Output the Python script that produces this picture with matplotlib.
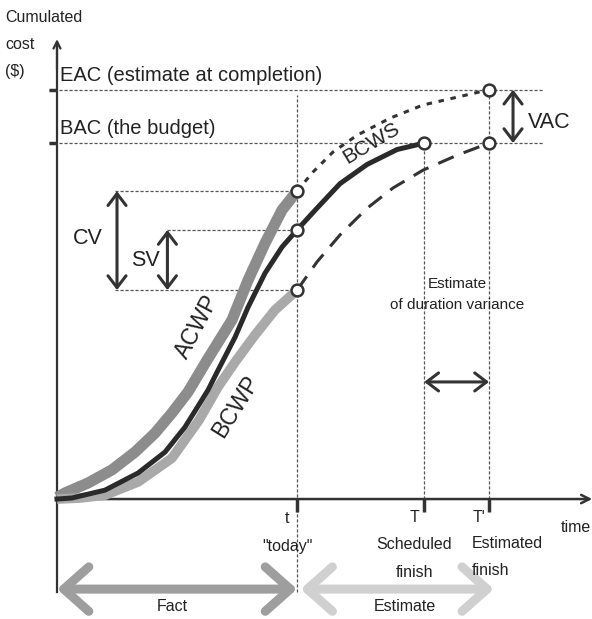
import matplotlib
matplotlib.use('Agg')
import matplotlib.pyplot as plt

plt.rcParams['font.family'] = ['Liberation Sans', 'DejaVu Sans']

# key times and costs
t_today, t_sched, t_est = 10.0, 15.3, 18.0
bac, eac = 100.0, 115.0
acwp_now, bcws_now, bcwp_now = 86.5, 75.6, 58.7

# actual curves up to "today"
bcws_t = [0, 0.625, 2.0, 3.375, 4.5, 5.33, 5.96, 6.29, 6.71, 7.42, 7.96, 8.67, 9.375, 10]
bcws_c = [0, 0.3, 2.5, 7.3, 13.2, 20.2, 27.0, 30.6, 36.2, 45.5, 53.9, 63.5, 70.8, 75.6]
acwp_t = [0, 0.33, 1.29, 2.29, 3.25, 4.08, 4.79, 5.46, 6.25, 7.29, 7.96, 8.67, 9.375, 10]
acwp_c = [0.5, 1.7, 4.5, 8.2, 13.2, 18.5, 24.2, 30.1, 39.0, 50.3, 61.5, 71.9, 81.2, 86.5]
bcwp_t = [0, 0.96, 2.0, 3.375, 4.79, 5.92, 6.71, 7.42, 8.25, 9.08, 10]
bcwp_c = [0, 0.3, 1.1, 4.8, 11.5, 22.2, 31.5, 38.5, 46.1, 53.1, 58.7]

# planned / forecast continuations
bcws_f_t = [10, 10.83, 11.79, 12.92, 14.17, 15.3]
bcws_f_c = [75.6, 81.7, 88.6, 94.0, 98.2, 100.0]
eac_f_t = [10, 10.67, 11.5, 12.5, 13.875, 15.25, 16.67, 18]
eac_f_c = [86.5, 91.9, 97.5, 102.2, 107.0, 110.7, 112.9, 115.0]
bcwp_f_t = [10, 10.83, 11.79, 12.92, 14.0, 15.25, 16.67, 18]
bcwp_f_c = [58.7, 66.6, 74.2, 81.7, 87.4, 92.4, 96.6, 100.0]

DARK = '#333333'

fig = plt.figure(figsize=(5.92, 6.19), dpi=100)
ax = fig.add_axes([0, 0, 1, 1])
ax.set_xlim(-2.375, 22.29)
ax.set_ylim(-33.7, 140.2)
ax.axis('off')


def darrow(x0, y0, x1, y1, color=DARK, lw=2.2, hl=0.85, hw=0.65, z=5):
	ax.annotate('', xy=(x1, y1), xytext=(x0, y0),
		arrowprops=dict(arrowstyle='<->,head_length={},head_width={}'.format(hl, hw),
			color=color, lw=lw, shrinkA=0, shrinkB=0), zorder=z)


ref = dict(color='#555555', lw=0.9, ls=(0, (2.5, 1.5)), zorder=1)
# horizontal reference lines
ax.plot([-0.35, 20.3], [eac, eac], **ref)
ax.plot([-0.35, 20.3], [bac, bac], **ref)
ax.plot([2.4, t_today], [acwp_now, acwp_now], **ref)
ax.plot([2.4, t_today], [bcwp_now, bcwp_now], **ref)
ax.plot([4.6, t_today], [bcws_now, bcws_now], **ref)
# vertical reference lines
ax.plot([t_today, t_today], [-26, 113.5], **ref)
ax.plot([t_sched, t_sched], [0, bac], **ref)
ax.plot([t_est, t_est], [0, eac], **ref)

# axes
ax.plot([0, 0], [-26, 128], color=DARK, lw=1.6, zorder=2)
ax.annotate('', xy=(0, 130), xytext=(0, 120),
	arrowprops=dict(arrowstyle='->,head_length=0.5,head_width=0.25', color=DARK, lw=1.6))
ax.annotate('', xy=(22.3, 0), xytext=(0, 0),
	arrowprops=dict(arrowstyle='->,head_length=0.6,head_width=0.3', color=DARK, lw=1.8,
		shrinkA=0, shrinkB=0), zorder=2)
for c in (eac, bac):
	ax.plot([-0.35, 0], [c, c], color=DARK, lw=2.5, solid_capstyle='butt')
for tt in (t_today, t_sched, t_est):
	ax.plot([tt, tt], [0, -3.5], color=DARK, lw=2.5, solid_capstyle='butt')

# curves
ax.plot(acwp_t, acwp_c, color='#8c8c8c', lw=8, solid_capstyle='butt',
	solid_joinstyle='round', zorder=3)
ax.plot(bcwp_t, bcwp_c, color='#a9a9a9', lw=7, solid_capstyle='butt',
	solid_joinstyle='round', zorder=3)
ax.plot(bcws_t, bcws_c, color='#2a2a2a', lw=3.6, solid_joinstyle='round', zorder=4)
ax.plot(bcws_f_t, bcws_f_c, color='#2a2a2a', lw=3.6, solid_joinstyle='round', zorder=4)
ax.plot(eac_f_t, eac_f_c, color=DARK, lw=2.2, ls=(0, (1.8, 2.2)), zorder=4)
ax.plot(bcwp_f_t, bcwp_f_c, color=DARK, lw=2.2, ls=(0, (5.5, 3.5)), zorder=4)

# markers
mk_t = [t_today, t_today, t_today, t_sched, t_est, t_est]
mk_c = [acwp_now, bcws_now, bcwp_now, bac, bac, eac]
ax.plot(mk_t, mk_c, 'o', ms=8.5, mfc='white', mec=DARK, mew=1.8, ls='none', zorder=6)

# variance arrows
darrow(2.5, acwp_now, 2.5, bcwp_now)
darrow(4.6, bcws_now, 4.6, bcwp_now)
darrow(19.0, eac, 19.0, bac)
darrow(t_sched, 32.9, t_est, 32.9)

# fact / estimate arrows
darrow(0, -25.3, t_today, -25.3, color='#9e9e9e', lw=6.5, hl=1.8, hw=1.6, z=1)
darrow(t_today + 0.15, -25.3, t_est + 0.2, -25.3, color='#d0d0d0', lw=6.5, hl=1.8, hw=1.6, z=1)

# text
txt = dict(color='#222222')
ax.text(-2.17, 137.3, 'Cumulated\ncost\n($)', fontsize=11.5, va='top', ha='left',
	linespacing=2.0, **txt)
ax.text(0.125, 119, 'EAC (estimate at completion)', fontsize=14.5, va='center', ha='left', **txt)
ax.text(0.125, 104.2, 'BAC (the budget)', fontsize=14.5, va='center', ha='left', **txt)
ax.text(13.1, 100.0, 'BCWS', fontsize=15, rotation=31, ha='center', va='center',
	rotation_mode='anchor', **txt)
ax.text(5.85, 48.3, 'ACWP', fontsize=16.5, rotation=62, ha='center', va='center',
	rotation_mode='anchor', **txt)
ax.text(7.45, 26.0, 'BCWP', fontsize=16.5, rotation=58, ha='center', va='center',
	rotation_mode='anchor', **txt)
ax.text(1.3, 73.3, 'CV', fontsize=15.5, ha='center', va='center', **txt)
ax.text(3.67, 67.1, 'SV', fontsize=15.5, ha='center', va='center', **txt)
ax.text(20.5, 105.9, 'VAC', fontsize=15.5, ha='center', va='center', **txt)
ax.text(16.67, 60.5, 'Estimate', fontsize=11, ha='center', va='center', **txt)
ax.text(16.67, 54.4, 'of duration variance', fontsize=11, ha='center', va='center', **txt)
ax.text(9.6, -5.6, 't', fontsize=11.5, ha='center', va='center', **txt)
ax.text(9.6, -13.2, '"today"', fontsize=11.5, ha='center', va='center', **txt)
ax.text(14.9, -5.1, 'T', fontsize=11.5, ha='center', va='center', **txt)
ax.text(14.875, -12.9, 'Scheduled', fontsize=11.5, ha='center', va='center', **txt)
ax.text(14.875, -20.5, 'finish', fontsize=11.5, ha='center', va='center', **txt)
ax.text(17.6, -5.1, "T'", fontsize=11.5, ha='center', va='center', **txt)
ax.text(17.29, -12.4, 'Estimated', fontsize=11.5, ha='left', va='center', **txt)
ax.text(17.29, -20.0, 'finish', fontsize=11.5, ha='left', va='center', **txt)
ax.text(22.25, -7.9, 'time', fontsize=11.5, ha='right', va='center', **txt)
ax.text(4.8, -30.3, 'Fact', fontsize=11.5, ha='center', va='center', **txt)
ax.text(14.5, -30.3, 'Estimate', fontsize=11.5, ha='center', va='center', **txt)

fig.savefig('out.png', dpi=100)
